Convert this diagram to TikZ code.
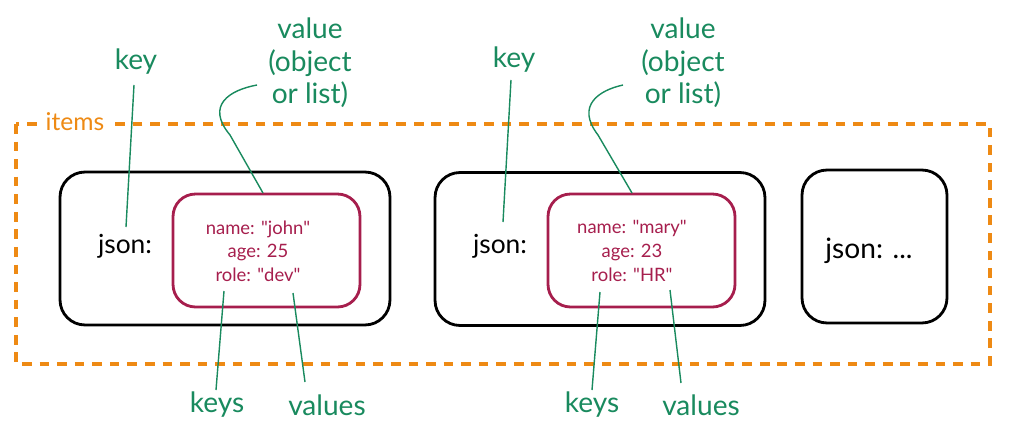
\documentclass[tikz,border=0pt]{standalone}
\usepackage{fontspec}
\setmainfont{Lato}
\definecolor{lblgreen}{HTML}{198A5E}
\definecolor{valred}{HTML}{A61E4D}
\definecolor{itemorange}{HTML}{EE8A14}
\newcommand{\dq}{\textquotedbl}
\begin{document}
\begin{tikzpicture}[x=0.02cm,y=-0.02cm,
  outerbox/.style={draw=black,line width=1.6pt,rounded corners=0.5cm,minimum width=6.6cm,minimum height=3.06cm,inner sep=0pt},
  innerbox/.style={draw=valred,line width=1.6pt,rounded corners=0.45cm,minimum width=3.74cm,minimum height=2.26cm,inner sep=0pt},
  lbl/.style={text=lblgreen,font=\fontsize{16}{18.5}\selectfont,align=center,inner sep=1pt},
  kv/.style={text=valred,font=\fontsize{10.5}{13.5}\selectfont,align=center,inner sep=0pt},
  jsontxt/.style={font=\fontsize{15}{17}\selectfont,inner sep=0pt},
  leader/.style={draw=lblgreen,line width=0.8pt},
  itemsbox/.style={draw=itemorange,line width=1.9pt,dash pattern=on 5.5pt off 4.5pt}]
\useasboundingbox (0,0) rectangle (1024,429);

% items container
\draw[itemsbox] (16,124) rectangle (990,364);
\node[text=itemorange,fill=white,font=\fontsize{14}{16}\selectfont,inner xsep=4pt,inner ysep=1pt] (itemslbl) at (75,122) {items};

% item 1
\node[outerbox] (obj1) at (225,248.5) {};
\node[innerbox] (val1) at (266.5,250.5) {};
\node[jsontxt] (json1) at (125,246) {json:};
\node[kv] (kv1) at (258,251) {name: \dq john\dq\\age: 25\\role: \dq dev\dq};

% item 2
\node[outerbox] (obj2) at (600,249) {};
\node[innerbox] (val2) at (641.5,250.5) {};
\node[jsontxt] (json2) at (500,246) {json:};
\node[kv] (kv2) at (632,251) {name: \dq mary\dq\\age: 23\\role: \dq HR\dq};

% item 3
\node[outerbox,minimum width=2.9cm] (obj3) at (874.5,246.5) {};
\node[jsontxt,font=\fontsize{16}{18}\selectfont] (json3) at (869,251) {json: ...};

% labels item 1
\node[lbl] (key1) at (136,62) {key};
\node[lbl] (vall1) at (310,63) {value\\(object\\or list)};
\node[lbl] (keys1) at (217,405) {keys};
\node[lbl] (vals1) at (327,405) {values};
\coordinate (key1start) at (134,85);
\coordinate (key1end) at (126,227);
\coordinate (val1start) at (257,85);
\coordinate (val1end) at (263,193);
\coordinate (keys1start) at (216,390);
\coordinate (keys1end) at (224,291);
\coordinate (vals1start) at (305,382);
\coordinate (vals1end) at (293,293);
\draw[leader] (key1start) -- (key1end);
\draw[leader] (val1start) .. controls (230,90) and (205,105) .. (230,135) -- (val1end);
\draw[leader] (keys1start) -- (keys1end);
\draw[leader] (vals1start) -- (vals1end);

% labels item 2
\node[lbl] (key2) at (514,60) {key};
\node[lbl] (vall2) at (683,63) {value\\(object\\or list)};
\node[lbl] (keys2) at (592,405) {keys};
\node[lbl] (vals2) at (701,405) {values};
\coordinate (key2start) at (511,80);
\coordinate (key2end) at (503,222);
\coordinate (val2start) at (623,85);
\coordinate (val2end) at (632,193);
\coordinate (keys2start) at (592,390);
\coordinate (keys2end) at (600,292);
\coordinate (vals2start) at (681,383);
\coordinate (vals2end) at (670,290);
\draw[leader] (key2start) -- (key2end);
\draw[leader] (val2start) .. controls (600,90) and (575,105) .. (598,135) -- (val2end);
\draw[leader] (keys2start) -- (keys2end);
\draw[leader] (vals2start) -- (vals2end);
\end{tikzpicture}
\end{document}
